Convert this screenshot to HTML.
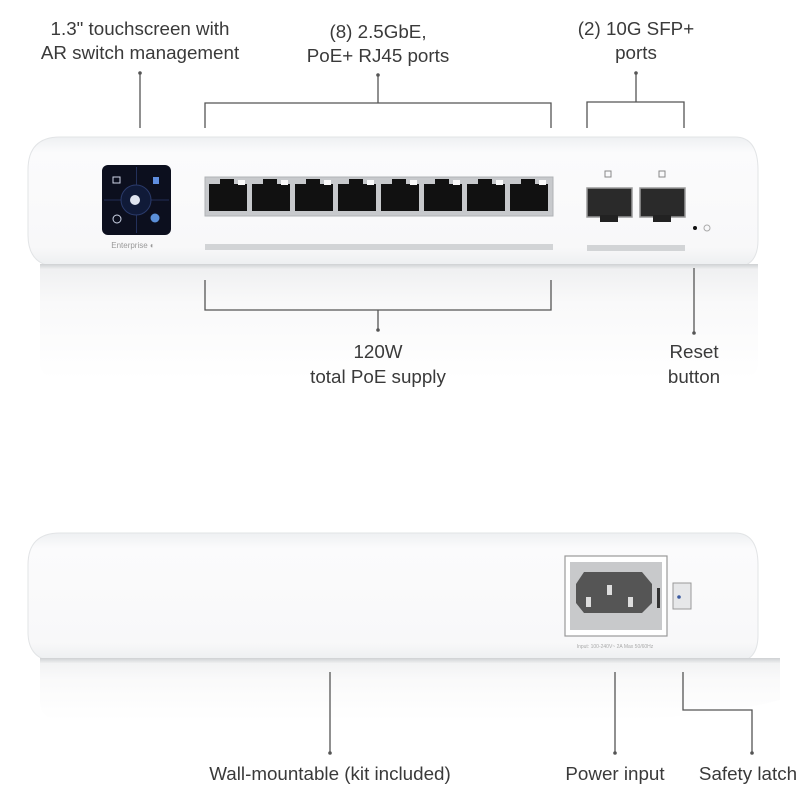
<!DOCTYPE html>
<html><head><meta charset="utf-8"><style>
body{margin:0;background:#fff;}
svg{display:block}
text{font-family:"Liberation Sans",sans-serif;font-size:18.8px;fill:#3a3a3a;text-anchor:middle}
</style></head><body>
<svg width="800" height="800" viewBox="0 0 800 800">
<defs>
<linearGradient id="body" x1="0" y1="0" x2="0" y2="1">
<stop offset="0" stop-color="#eef0f2"/><stop offset="0.12" stop-color="#fbfbfc"/><stop offset="0.85" stop-color="#f8f8f9"/><stop offset="1" stop-color="#eceef0"/></linearGradient>
<linearGradient id="refl" x1="0" y1="0" x2="0" y2="1">
<stop offset="0" stop-color="#e8e9eb"/><stop offset="0.3" stop-color="#f6f6f7"/><stop offset="1" stop-color="#fff"/></linearGradient>
<linearGradient id="edge" x1="0" y1="0" x2="0" y2="1">
<stop offset="0" stop-color="#cfd1d3"/><stop offset="1" stop-color="#eeeff0"/></linearGradient>
</defs>
<text x="140" y="35">1.3" touchscreen with</text>
<text x="140" y="59">AR switch management</text>
<text x="378" y="38">(8) 2.5GbE,</text>
<text x="378" y="62">PoE+ RJ45 ports</text>
<text x="636" y="35">(2) 10G SFP+</text>
<text x="636" y="59">ports</text>
<g stroke="#555" stroke-width="1.3" fill="none">
<path d="M140 73V128"/>
<path d="M378 75V103M205 128V103H551V128"/>
<path d="M636 73V102M587 128V102H684V128"/>
</g>
<g fill="#555"><circle cx="140" cy="73" r="1.8"/><circle cx="378" cy="75" r="1.8"/><circle cx="636" cy="73" r="1.8"/></g>
<path d="M40 268H758V360Q758 380 740 380H60Q40 380 40 360Z" fill="url(#refl)" opacity="0.7"/>
<path d="M60 137H735Q758 137 758 170V240Q758 267 735 267H60Q28 267 28 235V170Q28 137 60 137Z" fill="url(#body)" stroke="#e2e4e6"/>
<rect x="40" y="264" width="718" height="5" fill="url(#edge)"/>
<rect x="102" y="165" width="69" height="70" rx="6" fill="#0c0f1e"/>
<g stroke="#2a3a6a" stroke-width="0.8"><path d="M136.5 167V233M104 200H169"/></g>
<circle cx="136" cy="200" r="15" fill="#101a38" stroke="#2a3a6a"/>
<circle cx="135" cy="200" r="5" fill="#dfe4f0"/>
<rect x="113" y="177" width="7" height="6" fill="none" stroke="#cfd6e8" stroke-width="1"/>
<rect x="153" y="177" width="6" height="7" fill="#5f8ee0"/>
<circle cx="117" cy="219" r="4" fill="none" stroke="#cfd6e8"/>
<circle cx="155" cy="218" r="4.5" fill="#5b8fd8"/>
<text x="133" y="248" style="font-size:8px;fill:#999">Enterprise ◐</text>
<rect x="205" y="177" width="348" height="39" fill="#c7c9cc" stroke="#b0b3b6"/>
<g fill="#111">
<rect x="209" y="184" width="38" height="27"/><rect x="252" y="184" width="38" height="27"/><rect x="295" y="184" width="38" height="27"/><rect x="338" y="184" width="38" height="27"/><rect x="381" y="184" width="38" height="27"/><rect x="424" y="184" width="38" height="27"/><rect x="467" y="184" width="38" height="27"/><rect x="510" y="184" width="38" height="27"/>
<rect x="220" y="179" width="14" height="6"/><rect x="263" y="179" width="14" height="6"/><rect x="306" y="179" width="14" height="6"/><rect x="349" y="179" width="14" height="6"/><rect x="392" y="179" width="14" height="6"/><rect x="435" y="179" width="14" height="6"/><rect x="478" y="179" width="14" height="6"/><rect x="521" y="179" width="14" height="6"/>
</g>
<g fill="#fafafa"><rect x="238" y="180" width="7" height="5"/><rect x="281" y="180" width="7" height="5"/><rect x="324" y="180" width="7" height="5"/><rect x="367" y="180" width="7" height="5"/><rect x="410" y="180" width="7" height="5"/><rect x="453" y="180" width="7" height="5"/><rect x="496" y="180" width="7" height="5"/><rect x="539" y="180" width="7" height="5"/></g>
<rect x="205" y="244" width="348" height="6" fill="#d2d4d6"/>
<rect x="605" y="171" width="6" height="6" fill="none" stroke="#888"/><rect x="659" y="171" width="6" height="6" fill="none" stroke="#888"/>
<rect x="587" y="188" width="45" height="29" fill="#2a2a2a" stroke="#999" stroke-width="1.5"/>
<rect x="640" y="188" width="45" height="29" fill="#2a2a2a" stroke="#999" stroke-width="1.5"/>
<rect x="600" y="215" width="18" height="7" fill="#222"/><rect x="653" y="215" width="18" height="7" fill="#222"/>
<rect x="587" y="245" width="98" height="6" fill="#d2d4d6"/>
<circle cx="695" cy="228" r="2" fill="#111"/><circle cx="707" cy="228" r="3" fill="none" stroke="#aaa"/>
<g stroke="#555" stroke-width="1.3" fill="none">
<path d="M205 280V310H551V280M378 310V330"/>
<path d="M694 268V333"/>
</g>
<g fill="#555"><circle cx="378" cy="330" r="1.8"/><circle cx="694" cy="333" r="1.8"/></g>
<text x="378" y="358">120W</text>
<text x="378" y="383">total PoE supply</text>
<text x="694" y="358">Reset</text>
<text x="694" y="383">button</text>
<path d="M40 662H780V700Q700 720 600 720H60Q40 720 40 700Z" fill="url(#refl)" opacity="0.6"/>
<path d="M60 533H735Q758 533 758 565V635Q758 662 735 662H60Q28 662 28 632V565Q28 533 60 533Z" fill="url(#body)" stroke="#e2e4e6"/>
<rect x="40" y="658" width="740" height="5" fill="url(#edge)"/>
<rect x="565" y="556" width="102" height="80" fill="#fff" stroke="#999" stroke-width="1.2"/>
<rect x="570" y="562" width="92" height="68" fill="#c8c9cb"/>
<path d="M584 572H642L652 584V603L642 613H584L576 603V584Z" fill="#555"/>
<rect x="607" y="585" width="5" height="10" fill="#ddd"/><rect x="586" y="597" width="5" height="10" fill="#ddd"/><rect x="628" y="597" width="5" height="10" fill="#ddd"/>
<rect x="657" y="588" width="3" height="20" fill="#333"/>
<rect x="673" y="583" width="18" height="26" fill="#e6e7e9" stroke="#999"/>
<circle cx="679" cy="597" r="1.8" fill="#3b5aa0"/>
<text x="615" y="648" style="font-size:5px;fill:#aaa">Input: 100-240V~ 2A Max 50/60Hz</text>
<g stroke="#555" stroke-width="1.3" fill="none">
<path d="M330 672V753"/><path d="M615 672V753"/><path d="M683 672V710H752V753"/>
</g>
<g fill="#555"><circle cx="330" cy="753" r="1.8"/><circle cx="615" cy="753" r="1.8"/><circle cx="752" cy="753" r="1.8"/></g>
<text x="330" y="780">Wall-mountable (kit included)</text>
<text x="615" y="780">Power input</text>
<text x="748" y="780">Safety latch</text>
</svg>
</body></html>
